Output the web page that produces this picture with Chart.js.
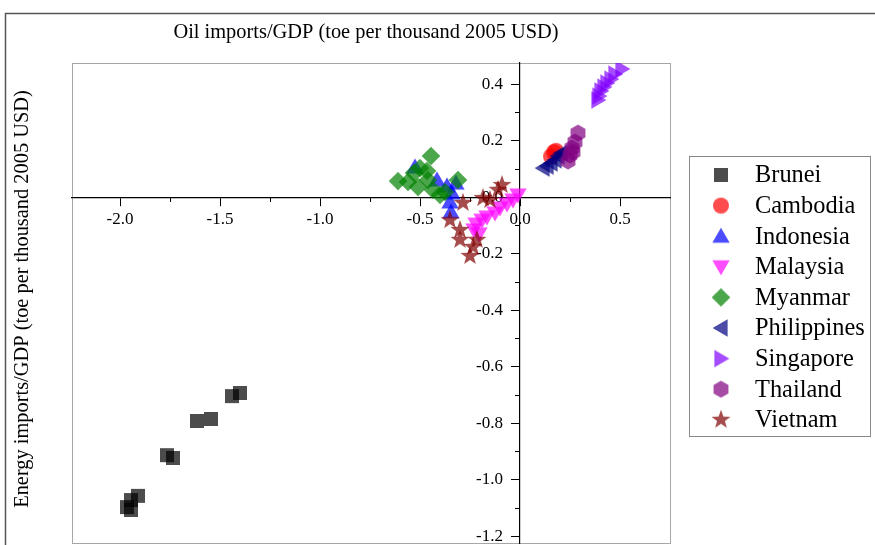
<!DOCTYPE html>
<html>
<head>
<meta charset="utf-8">
<script src="https://cdn.jsdelivr.net/npm/chart.js@4.4.1/dist/chart.umd.min.js"></script>
<style>
  html, body { margin: 0; padding: 0; overflow: hidden; background: #fff; }
  canvas { display: block; }
</style>
</head>
<body>
<canvas id="myChart" width="875" height="560"></canvas>
<script>
// x = oil imports/GDP, y = energy imports/GDP
const brunei = [[-1.40, -0.692], [-1.44, -0.703], [-1.545, -0.784], [-1.615, -0.791], [-1.735, -0.922],
    [-1.765, -0.912], [-1.91, -1.056], [-1.945, -1.071], [-1.965, -1.096], [-1.945, -1.106]];
const cambodia = [[0.155, 0.145], [0.17, 0.16], [0.18, 0.165]];
const indonesia = [[-0.525, 0.108], [-0.415, 0.062], [-0.365, 0.041], [-0.34, 0.016], [-0.35, -0.016],
    [-0.345, -0.051], [-0.32, 0.051]];
const malaysia = [[-0.01, 0.009], [-0.035, -0.009], [-0.065, -0.023], [-0.10, -0.037], [-0.125, -0.055],
    [-0.165, -0.069], [-0.19, -0.080], [-0.22, -0.094], [-0.23, -0.115], [-0.205, -0.129]];
const myanmar = [[-0.61, 0.058], [-0.445, 0.147], [-0.53, 0.087], [-0.50, 0.104], [-0.465, 0.094],
    [-0.56, 0.055], [-0.51, 0.037], [-0.435, 0.027], [-0.40, 0.009], [-0.31, 0.062], [-0.46, 0.062], [-0.375, 0.019]];
const philippines = [[0.115, 0.104], [0.135, 0.111], [0.155, 0.122], [0.175, 0.133], [0.19, 0.147], [0.205, 0.157]];
const singapore = [[0.51, 0.455], [0.475, 0.437], [0.455, 0.419], [0.435, 0.405], [0.42, 0.391],
    [0.405, 0.377], [0.395, 0.359], [0.39, 0.345]];
const thailand = [[0.29, 0.228], [0.275, 0.196], [0.26, 0.175], [0.25, 0.150], [0.24, 0.129], [0.265, 0.161]];
const vietnam = [[-0.09, 0.044], [-0.11, 0.027], [-0.185, -0.002], [-0.285, -0.019], [-0.35, -0.080],
    [-0.30, -0.115], [-0.30, -0.150], [-0.215, -0.150], [-0.235, -0.175], [-0.25, -0.207], [-0.15, -0.009]];

const countries = ['Brunei', 'Cambodia', 'Indonesia', 'Malaysia', 'Myanmar', 'Philippines', 'Singapore', 'Thailand', 'Vietnam'];
const seriesData = [brunei, cambodia, indonesia, malaysia, myanmar, philippines, singapore, thailand, vietnam];
const colors = ['0,0,0', '255,0,0', '0,0,255', '255,0,255', '0,128,0', '0,0,128', '128,0,255', '128,0,128', '128,0,0'];
const shapes = ['square', 'circle', 'up', 'down', 'diamond', 'left', 'right', 'hexagon', 'star'];

const xMajorTicks = [-2.0, -1.5, -1.0, -0.5, 0.0, 0.5];
const xMinorTicks = [-1.75, -1.25, -0.75, -0.25, 0.25];
const yMajorTicks = [0.4, 0.2, 0.0, -0.2, -0.4, -0.6, -0.8, -1.0, -1.2];
const yMinorTicks = [0.3, 0.1, -0.1, -0.3, -0.5, -0.7, -0.9, -1.1];

const FONT = 'Liberation Serif';

// marker images (semi transparent, like the original)
function makeMarker(shape, rgb) {
    const s = 24;
    const c = document.createElement('canvas');
    c.width = s; c.height = s;
    const g = c.getContext('2d');
    g.fillStyle = 'rgba(' + rgb + ',0.7)';
    g.translate(s / 2, s / 2);
    g.beginPath();
    const poly = (n, r, rot) => {
        for (let i = 0; i < n; i++) {
            const a = rot + i * 2 * Math.PI / n;
            g.lineTo(r * Math.cos(a), r * Math.sin(a));
        }
    };
    if (shape === 'square') {
        g.rect(-7, -7, 14, 14);
    } else if (shape === 'circle') {
        g.arc(0, 0, 8, 0, Math.PI * 2);
    } else if (shape === 'up') {
        g.translate(0, 1.6); poly(3, 10, -Math.PI / 2);
    } else if (shape === 'down') {
        g.translate(0, -1.6); poly(3, 10, Math.PI / 2);
    } else if (shape === 'left') {
        g.translate(1.6, 0); poly(3, 10, Math.PI);
    } else if (shape === 'right') {
        g.translate(-1.6, 0); poly(3, 10, 0);
    } else if (shape === 'diamond') {
        poly(4, 9.3, 0);
    } else if (shape === 'hexagon') {
        poly(6, 8.6, -Math.PI / 2);
    } else if (shape === 'star') {
        for (let i = 0; i < 10; i++) {
            const a = -Math.PI / 2 + i * Math.PI / 5;
            const r = i % 2 === 0 ? 10 : 4.1;
            g.lineTo(r * Math.cos(a), r * Math.sin(a));
        }
    }
    g.closePath();
    g.fill();
    return c;
}

const markers = shapes.map((sh, i) => makeMarker(sh, colors[i]));

// later countries are painted over earlier ones
const datasets = countries.map((name, i) => ({
    label: name,
    data: seriesData[i].map(p => ({ x: p[0], y: p[1] })),
    pointStyle: markers[i],
    pointRadius: 8,
    backgroundColor: 'rgba(' + colors[i] + ',0.7)',
    borderWidth: 0,
    order: countries.length - i
}));

const framePlugin = {
    id: 'frame',
    beforeDraw(chart) {
        const ctx = chart.ctx;
        const a = chart.chartArea;
        ctx.save();
        ctx.fillStyle = '#fff';
        ctx.fillRect(0, 0, chart.width, chart.height);
        ctx.strokeStyle = '#555';
        ctx.lineWidth = 1.5;
        ctx.strokeRect(5.5, 13.5, 900, 600);
        ctx.strokeStyle = '#a6a6a6';
        ctx.lineWidth = 1;
        ctx.strokeRect(a.left + 0.5, a.top + 0.5, a.right - a.left, a.bottom - a.top);
        ctx.restore();
    },
    afterDraw(chart) {
        const ctx = chart.ctx;
        ctx.save();
        ctx.fillStyle = '#000';
        ctx.font = '20.4px "' + FONT + '"';
        ctx.textAlign = 'center';
        ctx.textBaseline = 'middle';
        ctx.fillText('Oil imports/GDP (toe per thousand 2005 USD)', 366, 33);
        ctx.translate(23, 299);
        ctx.rotate(-Math.PI / 2);
        ctx.fillText('Energy imports/GDP (toe per thousand 2005 USD)', 0, 0);
        ctx.restore();

        // legend box
        ctx.save();
        ctx.strokeStyle = '#888';
        ctx.lineWidth = 1;
        ctx.strokeRect(689.5, 156.5, 181, 280);
        ctx.font = '24.4px "' + FONT + '"';
        ctx.textAlign = 'left';
        ctx.textBaseline = 'middle';
        ctx.fillStyle = '#000';
        countries.forEach((name, i) => {
            const y = 175 + i * 30.6;
            Chart.helpers.drawPoint(ctx, { pointStyle: markers[i], radius: 8, rotation: 0 }, 721, y);
            ctx.fillText(name, 755, y + 1);
        });
        ctx.restore();
    }
};

function axisTicks(list) {
    return axis => { axis.ticks = list.map(v => ({ value: v })); };
}

const ctx = document.getElementById('myChart').getContext('2d');
new Chart(ctx, {
    type: 'scatter',
    data: { datasets: datasets },
    options: {
        responsive: false,
        animation: false,
        events: [],
        layout: { padding: { left: 72, right: 205, top: 63, bottom: 17 } },
        plugins: {
            legend: { display: false },
            tooltip: { enabled: false }
        },
        scales: {
            x: {
                type: 'linear',
                min: -2.24, max: 0.75,
                position: { y: 0 },
                afterBuildTicks: axisTicks(xMajorTicks),
                border: { display: true, color: '#000', width: 1.2 },
                grid: { drawOnChartArea: false, tickLength: 8, color: '#000', tickColor: '#000' },
                ticks: {
                    color: '#000', font: { family: FONT, size: 17 }, padding: 4,
                    autoSkip: false, maxRotation: 0,
                    callback: v => v.toFixed(1)
                }
            },
            xMinor: {
                type: 'linear', axis: 'x',
                min: -2.24, max: 0.75,
                position: { y: 0 },
                afterBuildTicks: axisTicks(xMinorTicks),
                border: { display: false },
                grid: { drawOnChartArea: false, tickLength: 5, color: '#000' },
                ticks: { display: false }
            },
            y: {
                type: 'linear',
                min: -1.223, max: 0.476,
                position: { x: 0 },
                afterBuildTicks: axisTicks(yMajorTicks),
                border: { display: true, color: '#000', width: 1.2 },
                grid: { drawOnChartArea: false, tickLength: 8, color: '#000', tickColor: '#000' },
                ticks: {
                    color: '#000', font: { family: FONT, size: 17 },
                    autoSkip: false,
                    // labels sit left of the tick marks
                    callback: v => v.toFixed(1) + '    '
                }
            },
            yMinor: {
                type: 'linear', axis: 'y',
                min: -1.223, max: 0.476,
                position: { x: 0 },
                afterBuildTicks: axisTicks(yMinorTicks),
                border: { display: false },
                grid: { drawOnChartArea: false, tickLength: 5, color: '#000' },
                ticks: { display: false }
            }
        }
    },
    plugins: [framePlugin]
});
</script>
</body>
</html>
